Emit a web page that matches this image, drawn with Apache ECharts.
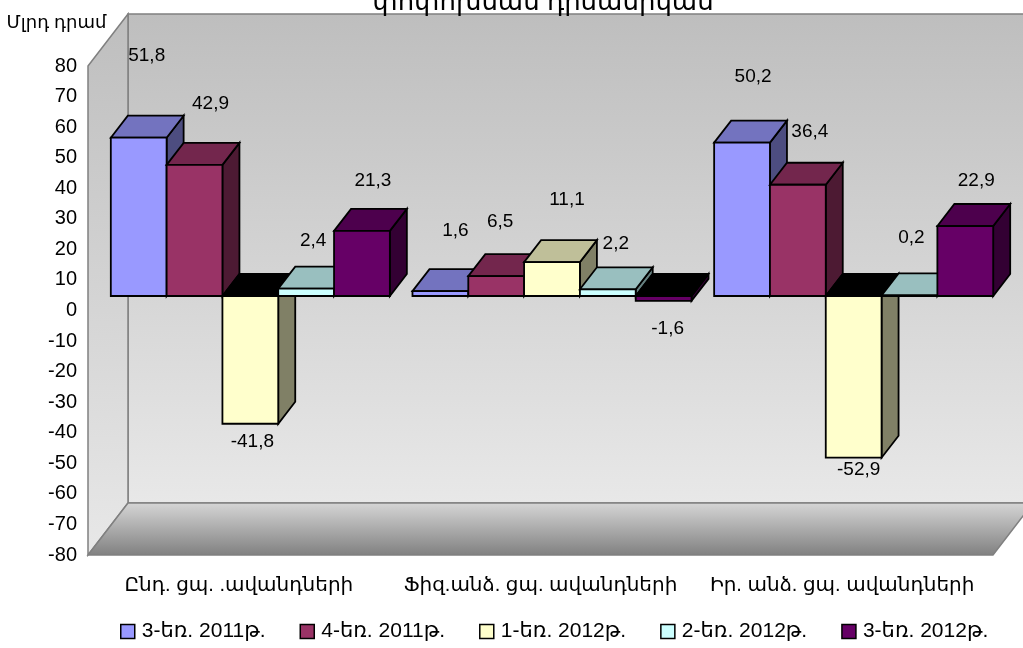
<!DOCTYPE html>
<html><head><meta charset="utf-8">
<style>html,body{margin:0;padding:0;background:#fff;overflow:hidden}#c{width:1023px;height:648px}</style>
<script src="https://cdn.jsdelivr.net/npm/echarts@6/dist/echarts.min.js"></script>
</head><body><div id="c"></div>
<script>
const categories = ['Ընդ. ցպ. .ավանդների', 'Ֆիզ.անձ. ցպ. ավանդների', 'Իր. անձ. ցպ. ավանդների'];
const seriesNames = ['3-եռ. 2011թ.', '4-եռ. 2011թ.', '1-եռ. 2012թ.', '2-եռ. 2012թ.', '3-եռ. 2012թ.'];
const q3_2011 = [51.8, 1.6, 50.2];
const q4_2011 = [42.9, 6.5, 36.4];
const q1_2012 = [-41.8, 11.1, -52.9];
const q2_2012 = [2.4, 2.2, 0.2];
const q3_2012 = [21.3, -1.6, 22.9];
const values = [q3_2011, q4_2011, q1_2012, q2_2012, q3_2012];

const frontColors = ['#9999FF', '#993366', '#FFFFCC', '#CCFFFF', '#660066'];
const topColors = ['#7373BF', '#73264D', '#BFBF99', '#99BFBF', '#4D004D'];
const sideColors = ['#4D4D80', '#4D1A33', '#808066', '#668080', '#330033'];
// hand-placed data label offsets from each bar's front top centre, as in the source chart
const labelShift = [
  [[8, -82], [15, -60], [11, -66]],
  [[16, -61], [4, -54], [12, -53]],
  [[2, 18], [15, -62], [5, 12]],
  [[7, -48], [8, -46], [2, -58]],
  [[11, -50], [4, 28], [11, -45]]
];
const FONT = '"Liberation Sans", "DejaVu Sans", sans-serif';
const WALL_DX = 40, WALL_DY = -52;       // full chart depth
const BAR_OFF_X = 11.5, BAR_OFF_Y = -14.5;  // front plane of the bars
const BAR_DX = 17, BAR_DY = -22;         // bar depth
const BAR_SHARE = 0.185;                 // bar width / category band

function poly(pts, fill, stroke, lw, extra) {
  return Object.assign({type: 'polygon', shape: {points: pts},
    style: {fill, stroke, lineWidth: lw, lineJoin: 'miter'}}, extra || {});
}

function renderWalls(params, api) {
  const band = api.size([1, 0])[0];
  const tl = api.coord([0, 80]), bl = api.coord([0, -80]);
  const x0 = tl[0] - band / 2, x1 = x0 + band * categories.length;
  const yT = tl[1], yB = bl[1];
  const g = (stops) => new echarts.graphic.LinearGradient(0, 0, 0, 1, stops.map((c, i) => ({offset: i, color: c})));
  const edge = '#808080';
  return {type: 'group', children: [
    poly([[x0 + WALL_DX, yT + WALL_DY], [x1 + WALL_DX, yT + WALL_DY], [x1 + WALL_DX, yB + WALL_DY], [x0 + WALL_DX, yB + WALL_DY]],
      g(['#BEBEBE', '#E8E8E8']), edge, 1.5),
    poly([[x0, yT], [x0 + WALL_DX, yT + WALL_DY], [x0 + WALL_DX, yB + WALL_DY], [x0, yB]],
      g(['#BEBEBE', '#E8E8E8']), edge, 1.5),
    poly([[x0, yB], [x1, yB], [x1 + WALL_DX, yB + WALL_DY], [x0 + WALL_DX, yB + WALL_DY]],
      g(['#D6D6D6', '#808080']), edge, 1.5)
  ]};
}

function makeBarRenderer(s) {
  return function (params, api) {
    const cat = api.value(0), val = api.value(1);
    const band = api.size([1, 0])[0];
    const w = band * BAR_SHARE;
    const c0 = api.coord([cat, 0]), cv = api.coord([cat, val]);
    const left = c0[0] + BAR_OFF_X + (s - values.length / 2) * w;
    const right = left + w;
    const base = c0[1] + BAR_OFF_Y, tip = cv[1] + BAR_OFF_Y;
    const top = Math.min(base, tip), bottom = Math.max(base, tip);
    const negative = val < 0;
    const line = {stroke: '#000', lw: 1.8};
    const children = [
      poly([[right, top], [right + BAR_DX, top + BAR_DY], [right + BAR_DX, bottom + BAR_DY], [right, bottom]], sideColors[s], line.stroke, line.lw),
      poly([[left, top], [left + BAR_DX, top + BAR_DY], [right + BAR_DX, top + BAR_DY], [right, top]], negative ? '#000000' : topColors[s], line.stroke, line.lw),
      poly([[left, top], [right, top], [right, bottom], [left, bottom]], frontColors[s], line.stroke, line.lw),
      {type: 'text', z2: 50, style: {
        text: String(val).replace('.', ','),
        x: left + w / 2 + labelShift[s][cat][0],
        y: tip + labelShift[s][cat][1],
        align: 'center', verticalAlign: 'middle',
        font: '19px ' + FONT, fill: '#000'}}
    ];
    return {type: 'group', children};
  };
}

const barSeries = values.map((vals, s) => ({
  type: 'custom', name: seriesNames[s], z: 3 + s, clip: false, silent: true,
  coordinateSystem: 'cartesian2d',
  itemStyle: {color: frontColors[s], borderColor: '#000', borderWidth: 1.3},
  encode: {x: 0, y: 1},
  data: vals.map((v, i) => [i, v]),
  renderItem: makeBarRenderer(s)
}));

const chart = echarts.init(document.getElementById('c'), null, {renderer: 'canvas'});
chart.setOption({
  animation: false,
  backgroundColor: '#fff',
  title: {
    text: 'փոփոխման դինամիկան', left: 538, top: -15, textAlign: 'center',
    textStyle: {fontFamily: FONT, fontSize: 26, fontWeight: 'normal', color: '#000'}
  },
  grid: {left: 88, right: 30, top: 66, bottom: 93, containLabel: false},
  xAxis: {
    type: 'category', data: categories,
    axisLine: {show: false}, axisTick: {show: false}, splitLine: {show: false},
    axisLabel: {fontFamily: FONT, fontSize: 20, color: '#000', margin: 20, interval: 0}
  },
  yAxis: {
    type: 'value', min: -80, max: 80, interval: 10,
    name: 'Մլրդ դրամ', nameLocation: 'end', nameGap: 34,
    nameTextStyle: {fontFamily: FONT, fontSize: 18, color: '#000', align: 'center', padding: [0, 63, 0, 0]},
    axisLine: {show: false}, axisTick: {show: false}, splitLine: {show: false},
    axisLabel: {fontFamily: FONT, fontSize: 20, color: '#000', margin: 11, padding: [2, 0, 0, 0]}
  },
  legend: {
    data: seriesNames, left: 115, top: 616, icon: 'rect', itemWidth: 14, itemHeight: 14, itemGap: 34,
    selectedMode: false,
    itemStyle: {borderColor: '#000', borderWidth: 1.5},
    textStyle: {fontFamily: FONT, fontSize: 21, color: '#000', padding: [0, 0, 0, 2]}
  },
  series: [{
    type: 'custom', z: 1, clip: false, silent: true, coordinateSystem: 'cartesian2d',
    data: [[0, 0]], encode: {x: 0, y: 1}, renderItem: renderWalls
  }].concat(barSeries)
});
</script></body></html>
